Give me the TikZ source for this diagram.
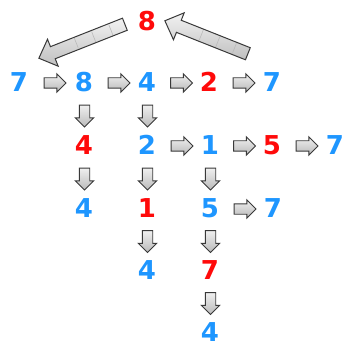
\documentclass[tikz,border=0pt]{standalone}
\usepackage{fontspec}
\setmainfont{DejaVu Sans}
\usetikzlibrary{shapes.arrows,calc}
\definecolor{nred}{RGB}{255,10,10}
\definecolor{nblue}{RGB}{30,150,255}
\tikzset{
  num/.style={font=\fontsize{26}{26}\selectfont\bfseries, inner sep=0pt},
  rn/.style={num,text=nred},
  bn/.style={num,text=nblue},
  sarrow/.style={single arrow, draw=gray!45!black, line width=0.9pt,
    top color=gray!12, bottom color=gray!55, text height=9.5pt, text depth=0pt,
    inner sep=0pt, minimum height=22pt, single arrow head extend=4pt,
    single arrow head indent=0pt},
  rarrow/.style={sarrow},
  darrow/.style={sarrow, rotate=-90},
  bigarrow/.style={single arrow, draw=gray!45!black, line width=1pt,
    top color=gray!10, bottom color=gray!50, text height=12pt, text depth=0pt,
    inner sep=0pt, single arrow head extend=8pt, single arrow head indent=0pt,
    single arrow tip angle=88},
  stripe/.style={draw=gray!55, line width=0.6pt}
}
\begin{document}
\begin{tikzpicture}[x=1pt,y=-1pt]
\useasboundingbox (0,0) rectangle (344,347);
% numbers
\node[rn] (top) at (147,21) {8};
\node[bn] (a0) at (19,82) {7};
\node[bn] (a1) at (84,82) {8};
\node[bn] (a2) at (147,82) {4};
\node[rn] (a3) at (209,82) {2};
\node[bn] (a4) at (272,82) {7};
\node[rn] (b1) at (84,145) {4};
\node[bn] (b2) at (147,145) {2};
\node[bn] (b3) at (210,145) {1};
\node[rn] (b4) at (272,145) {5};
\node[bn] (b5) at (335,145) {7};
\node[bn] (c1) at (84,208) {4};
\node[rn] (c2) at (147,208) {1};
\node[bn] (c3) at (210,208) {5};
\node[bn] (c4) at (273,208) {7};
\node[bn] (d2) at (147,270) {4};
\node[rn] (d3) at (210,270) {7};
\node[bn] (e3) at (210,332) {4};
% small right arrows
\foreach \p/\q/\n in {a0/a1/r1,a1/a2/r2,a2/a3/r3,a3/a4/r4,b2/b3/r5,b3/b4/r6,b4/b5/r7,c3/c4/r8}
  \node[rarrow] (\n) at ($(\p)!0.5!(\q)+(1,1)$) {};
% small down arrows
\foreach \p/\q/\n in {a1/b1/d1,a2/b2/d2a,b1/c1/d3a,b2/c2/d4,b3/c3/d5,c2/d2/d6,c3/d3/d7,d3/e3/d8}
  \node[darrow] (\n) at ($(\p)!0.5!(\q)+(0.5,0)$) {};
% big arrows
\coordinate (la) at (128,23);
\coordinate (lb) at (42,57);
\coordinate (ra) at (251,55);
\coordinate (rb) at (168,22);
\path let \p1=($(lb)-(la)$), \n1={atan2(\y1,\x1)}, \n2={veclen(\x1,\y1)} in
  node[bigarrow, minimum height=\n2, rotate=\n1] (L) at ($(la)!0.5!(lb)$) {};
\path let \p1=($(rb)-(ra)$), \n1={atan2(\y1,\x1)}, \n2={veclen(\x1,\y1)} in
  node[bigarrow, minimum height=\n2, rotate=\n1] (R) at ($(ra)!0.5!(rb)$) {};
\foreach \f in {0.2,0.4,0.6}{
  \coordinate (m) at ($(la)!\f!(lb)$);
  \draw[stripe] ($(m)!5.5pt!90:(lb)$) -- ($(m)!5.5pt!-90:(lb)$);
  \coordinate (n) at ($(ra)!\f!(rb)$);
  \draw[stripe] ($(n)!5.5pt!90:(rb)$) -- ($(n)!5.5pt!-90:(rb)$);
}
\end{tikzpicture}
\end{document}
